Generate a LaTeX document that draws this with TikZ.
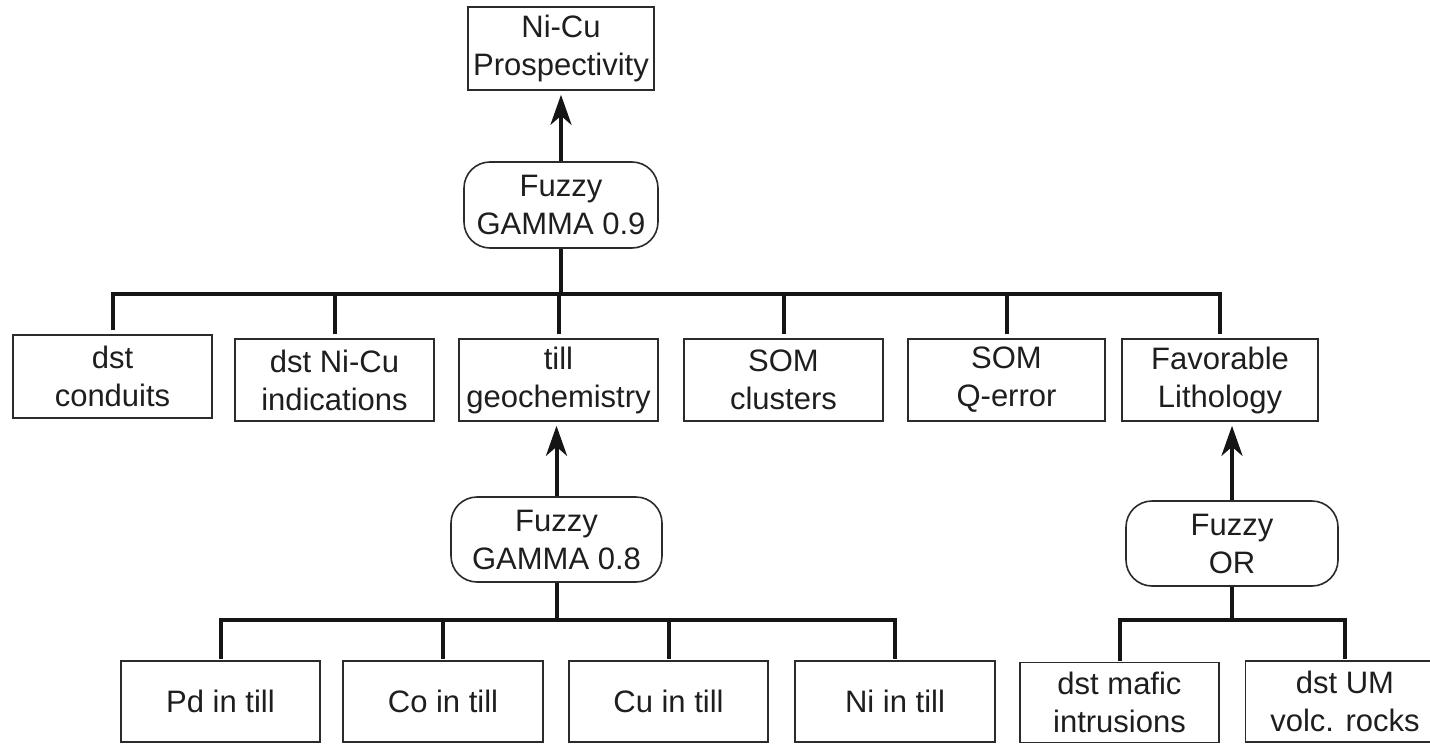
\documentclass[tikz,border=0pt]{standalone}
\usepackage{fontspec}
\setmainfont{Liberation Sans}
\usetikzlibrary{arrows.meta}
\definecolor{boxc}{HTML}{2B2B2B}
\definecolor{txt}{HTML}{1E1E1E}
\definecolor{lnc}{HTML}{151515}
\begin{document}
\begin{tikzpicture}[x=1pt,y=-1pt,
  box/.style={draw=boxc, line width=1.6pt, minimum width=199pt, minimum height=82pt,
    inner sep=0pt, align=center, text=txt, font=\fontsize{31}{38}\selectfont},
  rbox/.style={box, rounded corners=26pt},
  conn/.style={line width=4pt, draw=lnc},
  arr/.style={conn, -{Stealth[length=30pt,width=21pt,inset=9pt]}, shorten >=4pt},
]
\useasboundingbox (0,0) rectangle (1430,744);

% top
\node[box, minimum width=186pt, minimum height=83pt] (top) at (561,48.5) {Ni-Cu\\Prospectivity};
\node[rbox, minimum width=194pt, minimum height=86pt] (g09) at (561,205) {Fuzzy\\GAMMA 0.9};

% middle row
\node[box, minimum height=83pt] (m1) at (112.5,376.5) {dst\\conduits};
\node[box] (m2) at (334.5,380) {dst Ni-Cu\\indications};
\node[box] (m3) at (558.5,380) {till\\geochemistry};
\node[box] (m4) at (783.5,380) {SOM\\clusters};
\node[box, minimum width=197pt] (m5) at (1006.5,380) {SOM\\Q-error};
\node[box, minimum width=196pt] (m6) at (1220,380) {Favorable\\Lithology};

% second level operators
\node[rbox, minimum width=211pt, minimum height=85pt] (g08) at (556.5,539.5) {Fuzzy\\GAMMA 0.8};
\node[rbox, minimum width=212pt, minimum height=85pt] (for) at (1232,543.5) {Fuzzy\\OR};

% bottom row
\node[box, minimum height=81pt] (b1) at (220.5,701.5) {Pd in till};
\node[box, minimum width=200pt, minimum height=81pt] (b2) at (443,701.5) {Co in till};
\node[box, minimum height=81pt] (b3) at (668.5,701.5) {Cu in till};
\node[box, minimum width=200pt, minimum height=81pt] (b4) at (895,701.5) {Ni in till};
\node[box, minimum height=80pt] (r1) at (1119.5,702.5) {dst mafic\\intrusions};
\node[box, minimum height=81pt] (r2) at (1345,701.5) {dst UM\\volc. rocks};

% bus coordinates
\coordinate (bus1) at (0,294);
\coordinate (bus2) at (0,620);

% connectors: top level
\draw[arr] (g09.north) -- (g09.north |- top.south);
\draw[conn] (g09.south) -- (g09.south |- bus1);
\draw[conn, shorten <=4pt, shorten >=4pt] (m1.north) |- (m6.north |- bus1) -- (m6.north);
\draw[conn, shorten >=4pt] (m2.north |- bus1) -- (m2.north);
\draw[conn, shorten >=4pt] (m3.north |- bus1) -- (m3.north);
\draw[conn, shorten >=4pt] (m4.north |- bus1) -- (m4.north);
\draw[conn, shorten >=4pt] (m5.north |- bus1) -- (m5.north);

% till geochemistry branch
\draw[arr] (g08.north) -- (g08.north |- m3.south);
\draw[conn] (g08.south) -- (g08.south |- bus2);
\draw[conn, shorten <=1pt, shorten >=1pt] (b1.north) |- (b4.north |- bus2) -- (b4.north);
\draw[conn, shorten >=1pt] (b2.north |- bus2) -- (b2.north);
\draw[conn, shorten >=1pt] (b3.north |- bus2) -- (b3.north);

% lithology branch
\draw[arr] (for.north) -- (for.north |- m6.south);
\draw[conn] (for.south) -- (for.south |- bus2);
\draw[conn, shorten <=1pt, shorten >=1pt] (r1.north) |- (r2.north |- bus2) -- (r2.north);
\end{tikzpicture}
\end{document}
